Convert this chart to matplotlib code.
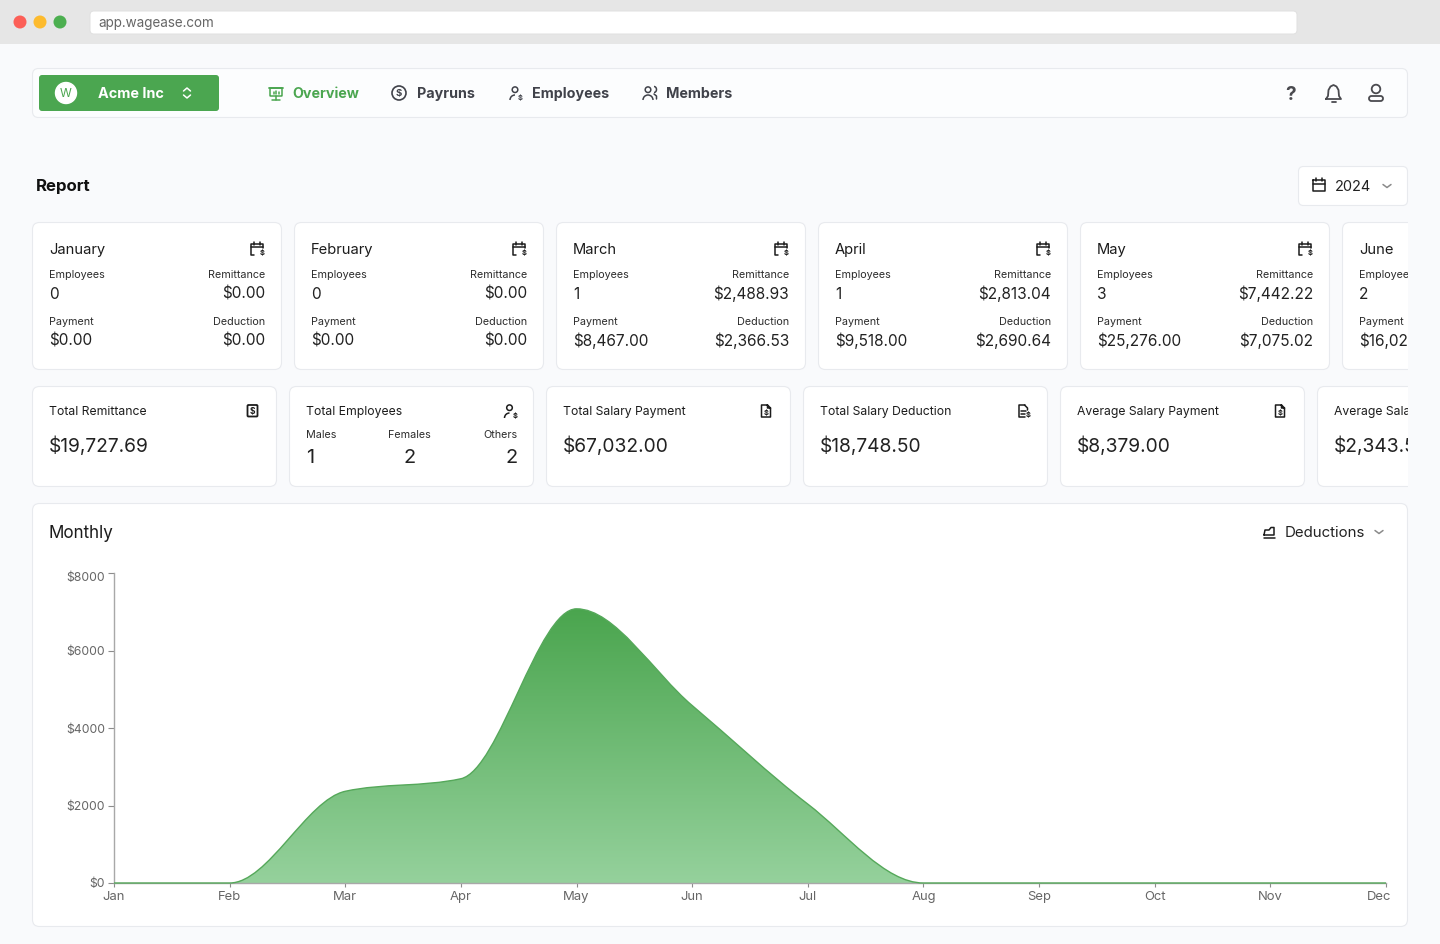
import matplotlib
matplotlib.use("Agg")
import matplotlib.pyplot as plt
import numpy as np
from matplotlib.patches import FancyBboxPatch, Circle, Rectangle, PathPatch, Arc
from matplotlib.path import Path
from matplotlib.colors import LinearSegmentedColormap
from matplotlib.transforms import ScaledTranslation

plt.rcParams['font.family'] = ['Inter', 'DejaVu Sans']

# chart data
chart_months = ["Jan", "Feb", "Mar", "Apr", "May", "Jun", "Jul", "Aug", "Sep", "Oct", "Nov", "Dec"]
deductions = [0, 0, 2366.53, 2690.64, 7075.02, 4580, 2036, 0, 0, 0, 0, 0]
y_ticks = [0, 2000, 4000, 6000, 8000]

# month cards
card_months = ["January", "February", "March", "April", "May", "June"]
card_employees = ["0", "0", "1", "1", "3", "2"]
card_remittance = ["$0.00", "$0.00", "$2,488.93", "$2,813.04", "$7,442.22", ""]
card_payment = ["$0.00", "$0.00", "$8,467.00", "$9,518.00", "$25,276.00", "$16,020.00"]
card_deduction = ["$0.00", "$0.00", "$2,366.53", "$2,690.64", "$7,075.02", ""]

# summary cards
summary_titles = ["Total Remittance", "Total Employees", "Total Salary Payment",
                  "Total Salary Deduction", "Average Salary Payment", "Average Salary Deduction"]
summary_values = ["$19,727.69", "", "$67,032.00", "$18,748.50", "$8,379.00", "$2,343.56"]
gender_labels = ["Males", "Females", "Others"]
gender_counts = ["1", "2", "2"]

nav_labels = ["Overview", "Payruns", "Employees", "Members"]

GREEN = "#4ba650"
BORDER = "#e8eaee"
BG = "#f9fafc"
DARK = "#1c1c1c"
NAV = "#40424a"

fig = plt.figure(figsize=(14.4, 9.44), dpi=100, facecolor=BG)
ui = fig.add_axes([0, 0, 1, 1])
ui.set_xlim(0, 1440)
ui.set_ylim(944, 0)
ui.axis("off")


def box(x0, y0, x1, y1, face="white", edge=BORDER, r=6, lw=0.8, z=1, clip=None):
    p = FancyBboxPatch((x0, y0), x1 - x0, y1 - y0, boxstyle=f"round,pad=0,rounding_size={r}",
                       fc=face, ec=edge, lw=lw, zorder=z)
    ui.add_patch(p)
    if clip is not None:
        p.set_clip_path(clip)
    return p


def txt(x, y, s, px=13, color=DARK, weight="normal", ha="left", clip=None):
    # y is the middle of the capitals, so mixed strings sit on one baseline
    t = ui.text(x, y + px * 0.36, s, fontsize=px * 0.72, color=color, fontweight=weight, ha=ha,
                va="baseline", zorder=5)
    if clip is not None:
        t.set_clip_on(True)
        t.set_clip_path(clip)
    return t


def line(xs, ys, color=DARK, lw=1.1, clip=None):
    l, = ui.plot(xs, ys, color=color, lw=lw, zorder=5, solid_capstyle="round")
    if clip is not None:
        l.set_clip_path(clip)


def ring(x, y, r, color=DARK, lw=1.1, fc="none"):
    ui.add_patch(Circle((x, y), r, fc=fc, ec=color, lw=lw, zorder=5))


def cal_icon(x, y, color=DARK, clip=None):
    line([x - 3, x - 6, x - 6, x + 6, x + 6], [y + 6, y + 6, y - 5, y - 5, y - 1], color, clip=clip)
    line([x - 6, x + 6], [y - 2, y - 2], color, clip=clip)
    line([x - 3, x - 3], [y - 7, y - 4], color, clip=clip)
    line([x + 3, x + 3], [y - 7, y - 4], color, clip=clip)
    txt(x + 5, y + 3.5, "$", 7.5, color, "bold", "center", clip=clip)


def person_icon(x, y, color=NAV, dollar=True):
    ring(x - 1, y - 3.3, 2.8, color)
    ui.add_patch(Arc((x - 1, y + 7), 10, 10, theta1=180, theta2=270 if dollar else 360,
                     color=color, lw=1.1, zorder=5))
    if dollar:
        txt(x + 4.5, y + 4.5, "$", 7.5, color, "bold", "center")


def doc_icon(x, y, color=DARK):
    line([x + 1.5, x - 4.5, x - 4.5, x + 4.5, x + 4.5, x + 1.5, x + 1.5, x + 4.5],
         [y - 6, y - 6, y + 6, y + 6, y - 3, y - 6, y - 3, y - 3], color)
    txt(x, y + 1, "$", 7.5, color, "bold", "center")


def receipt_icon(x, y, color=DARK):
    box(x - 5, y - 6, x + 5, y + 5.5, "none", color, r=1, lw=1.3, z=5)
    txt(x, y - 0.5, "$", 8.5, color, "bold", "center")


def lines_doc_icon(x, y, color=DARK):
    line([x + 1, x - 5, x - 5, x + 1], [y - 6, y - 6, y + 6, y + 6], color)
    line([x + 1, x + 4, x + 4], [y - 6, y - 3, y - 1], color)
    line([x - 3, x + 2], [y, y], color)
    line([x - 3, x + 1], [y + 3, y + 3], color)
    txt(x + 5, y + 3.5, "$", 7.5, color, "bold", "center")


def chevron(x, y, color="#8a8a8a", w=4, h=3, up=False):
    s = -1 if up else 1
    line([x - w, x, x + w], [y - s * h / 2, y + s * h / 2, y - s * h / 2], color, 1.1)


# browser bar
ui.add_patch(Rectangle((0, 0), 1440, 44, fc="#e6e6e6", ec="none", zorder=1))
box(90, 11, 1297, 34, "white", "#e0e0e0", r=4, lw=0.7)
txt(98, 22, "app.wagease.com", 13.5, "#666666")
for cx, col in zip([20, 40, 60], ["#fc5f57", "#fdbb2e", "#4caf50"]):
    ui.add_patch(Circle((cx, 22), 6.5, fc=col, ec="none", zorder=3))

# top nav
box(32.5, 68.5, 1407.5, 117.5, "#fcfdfe", BORDER, r=6)
box(39, 75, 219, 111, GREEN, "none", r=3, z=2)
ring(66, 93, 10.5, "white", 1, "white")
txt(66, 93, "W", 12, GREEN, "normal", "center")
txt(98, 93, "Acme Inc", 14.4, "white", "bold")
chevron(187, 89.5, "white", 3.5, 3, up=True)
chevron(187, 96.5, "white", 3.5, 3)

nav_x = [292, 417, 532, 666]
for i in range(len(nav_labels)):
    txt(nav_x[i], 93, nav_labels[i], 14.3, GREEN if i == 0 else NAV, "bold")
# overview icon
box(270, 88, 282, 96, "none", GREEN, r=0.5, lw=1.1, z=5)
line([276, 276], [96, 100], GREEN)
line([272, 280], [100, 100], GREEN)
line([269, 283], [88, 88], GREEN, 1.3)
line([273.5, 273.5], [92, 94], GREEN)
line([276, 276], [90.5, 94], GREEN)
line([278.5, 278.5], [91.5, 94], GREEN)
# payruns icon
ring(399, 93, 7, NAV, 1.2)
txt(399, 93, "$", 9.5, NAV, "bold", "center")
person_icon(516, 93)
person_icon(649, 93, dollar=False)
ui.add_patch(Arc((654, 89.5), 5, 6, theta1=270, theta2=90, color=NAV, lw=1.1, zorder=5))
line([654, 656.5, 656.5], [94, 96, 99], NAV)

txt(1291, 93, "?", 19, "#4a4a4f", "bold", "center")
# bell
line([1326, 1328, 1328.5, 1330.5, 1333.5, 1336.5, 1338.5, 1339, 1341, 1326],
     [99, 96, 90, 86.5, 85, 86.5, 90, 96, 99, 99], "#4a4a4f", 1.3)
line([1331.5, 1335.5], [102, 102], "#4a4a4f", 1.3)
# user
ring(1376, 89, 4.3, "#4a4a4f", 1.3)
box(1369, 96, 1383, 101, "none", "#4a4a4f", r=2.5, lw=1.3, z=5)

# report heading
txt(36, 185, "Report", 16.8, "#111111", "bold")
box(1298.5, 166.5, 1407.5, 205.5, "white", BORDER, r=5)
line([1313, 1325, 1325, 1313, 1313], [180, 180, 191, 191, 180], DARK)
line([1313, 1325], [184, 184], DARK)
line([1316, 1316], [178, 181], DARK)
line([1322, 1322], [178, 181], DARK)
txt(1335, 186, "2024", 14.5, "#222222")
chevron(1387, 186)

# everything right of x=1408 gets cut off like the scrolling row
clip_rect = Rectangle((0, 0), 1408, 944, transform=ui.transData, fc="none", ec="none")
ui.add_patch(clip_rect)

for i in range(len(card_months)):
    x = 32.5 + i * 262
    r = x + 232.5
    box(x, 222.5, x + 249, 369.5, "white", BORDER, r=7, clip=clip_rect)
    txt(x + 16.5, 248.7, card_months[i], 14.7, DARK, clip=clip_rect)
    if i < 5:
        cal_icon(r - 8, 249, clip=clip_rect)
    txt(x + 16.5, 274, "Employees", 10.8, "#2c2c2c", clip=clip_rect)
    txt(x + 16.5, 293, card_employees[i], 15.4, "#222222", clip=clip_rect)
    txt(x + 16.5, 321, "Payment", 10.8, "#2c2c2c", clip=clip_rect)
    txt(x + 16.5, 340, card_payment[i], 15.4, "#222222", clip=clip_rect)
    if card_remittance[i]:
        txt(r, 274, "Remittance", 10.8, "#2c2c2c", ha="right", clip=clip_rect)
        txt(r, 293, card_remittance[i], 15.4, "#222222", ha="right", clip=clip_rect)
        txt(r, 321, "Deduction", 10.8, "#2c2c2c", ha="right", clip=clip_rect)
        txt(r, 340, card_deduction[i], 15.4, "#222222", ha="right", clip=clip_rect)

for i in range(len(summary_titles)):
    x = 32.5 + i * 257
    r = x + 228
    box(x, 386.5, x + 244, 486.5, "white", BORDER, r=7, clip=clip_rect)
    txt(x + 16.5, 410.5, summary_titles[i], 12.2, DARK, clip=clip_rect)
    if summary_values[i]:
        txt(x + 16.5, 445, summary_values[i], 19.2, "#222222", clip=clip_rect)
    if i == 0:
        receipt_icon(r - 8, 411)
    elif i == 1:
        person_icon(r - 7, 411, DARK)
        txt(x + 16.5, 434.5, gender_labels[0], 10.8, "#2c2c2c")
        txt(x + 16.5, 456, gender_counts[0], 20, "#222222")
        txt(x + 120, 434.5, gender_labels[1], 10.8, "#2c2c2c", ha="center")
        txt(x + 120, 456, gender_counts[1], 20, "#222222", ha="center")
        txt(r, 434.5, gender_labels[2], 10.8, "#2c2c2c", ha="right")
        txt(r, 456, gender_counts[2], 20, "#222222", ha="right")
    elif i == 3:
        lines_doc_icon(r - 8, 411)
    elif i < 5:
        doc_icon(r - 8.5, 411)

# chart card
box(32.5, 503.5, 1407.5, 926.5, "white", BORDER, r=7)
txt(49, 532, "Monthly", 17, DARK)
txt(1285, 532, "Deductions", 15, "#222222")
line([1264, 1265, 1269, 1271, 1274, 1274, 1264], [535, 530, 530, 527.5, 527.5, 535, 535], DARK)
line([1263.5, 1274.5], [537.5, 537.5], DARK)
chevron(1379, 532)

# monthly area chart, real axes
W, H = 1440.0, 944.0
ax = fig.add_axes([114 / W, 1 - 883 / H, (1386 - 114) / W, (883 - 573) / H], facecolor="none")


def monotone_path(xv, yv):
    # same tangents as d3.curveMonotoneX, which is what drew the original
    xv = np.asarray(xv, float)
    yv = np.asarray(yv, float)
    h = np.diff(xv)
    s = np.diff(yv) / h
    t = np.zeros_like(xv)
    for k in range(1, len(xv) - 1):
        p = (s[k - 1] * h[k] + s[k] * h[k - 1]) / (h[k - 1] + h[k])
        t[k] = (np.sign(s[k - 1]) + np.sign(s[k])) * min(abs(s[k - 1]), abs(s[k]), 0.5 * abs(p))
    t[0] = (3 * s[0] - t[1]) / 2
    t[-1] = (3 * s[-1] - t[-2]) / 2
    verts = [(xv[0], yv[0])]
    codes = [Path.MOVETO]
    for k in range(len(xv) - 1):
        d = h[k] / 3
        verts += [(xv[k] + d, yv[k] + d * t[k]), (xv[k + 1] - d, yv[k + 1] - d * t[k + 1]), (xv[k + 1], yv[k + 1])]
        codes += [Path.CURVE4] * 3
    return verts, codes


xs = np.arange(len(chart_months))
verts, codes = monotone_path(xs, deductions)
area = Path(verts + [(xs[-1], 0), (xs[0], 0), (xs[0], 0)], codes + [Path.LINETO, Path.LINETO, Path.CLOSEPOLY])
grad_cmap = LinearSegmentedColormap.from_list("area", ["#95d19c", "#4aa54e"])
im = ax.imshow(np.linspace(0, 1, 256).reshape(-1, 1), cmap=grad_cmap, origin="lower", aspect="auto",
               extent=(0, 11, 0, max(deductions)), zorder=2)
clip_patch = PathPatch(area, transform=ax.transData, fc="none", ec="none")
ax.add_patch(clip_patch)
im.set_clip_path(clip_patch)
ax.set_xlim(0, 11)
ax.set_ylim(0, 8000)
ax.add_patch(PathPatch(Path(verts, codes), fc="none", ec="#55a85a", lw=1.0, zorder=3, clip_on=False))

for side in ["top", "right"]:
    ax.spines[side].set_visible(False)
for side in ["left", "bottom"]:
    ax.spines[side].set_color("#a8a8a8")
    ax.spines[side].set_linewidth(1.0)
ax.set_yticks(y_ticks)
ax.set_yticklabels([f"${v}" for v in y_ticks])
ax.set_xticks(xs)
ax.set_xticklabels(chart_months)
ax.tick_params(axis="y", length=6 * 0.72, width=0.8, color="#8c8c8c", labelcolor="#666666",
               labelsize=12.3 * 0.72, pad=2)
ax.tick_params(axis="x", length=4 * 0.72, width=0.8, color="#8c8c8c", labelcolor="#666666",
               labelsize=13 * 0.72, pad=3.2)
last = ax.get_xticklabels()[-1]
last.set_transform(last.get_transform() + ScaledTranslation(-7 / 100, 0, fig.dpi_scale_trans))
top = ax.get_yticklabels()[-1]
top.set_transform(top.get_transform() + ScaledTranslation(0, -4 / 100, fig.dpi_scale_trans))

fig.savefig("out.png", dpi=100, facecolor=BG)
